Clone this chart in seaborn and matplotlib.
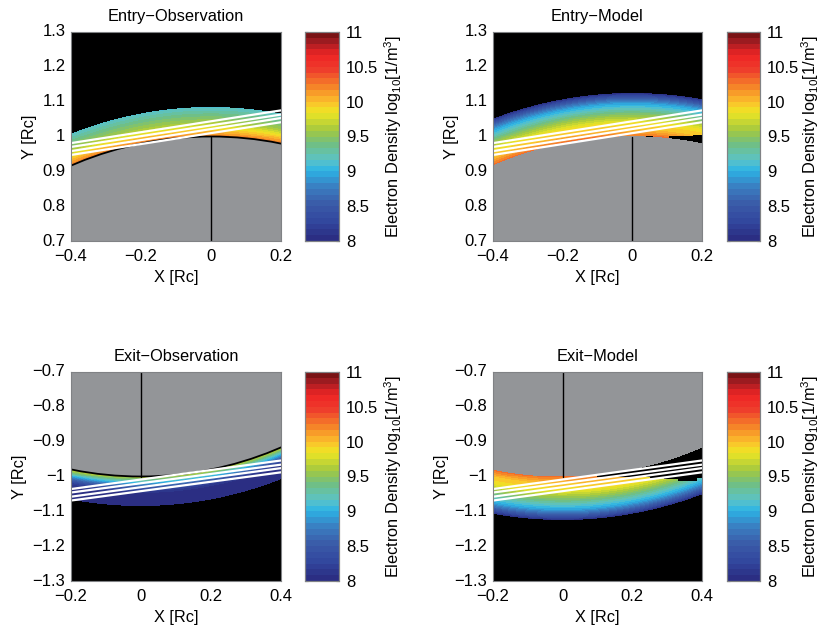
import numpy as np
import pandas as pd
import matplotlib
matplotlib.use("Agg")
import matplotlib.pyplot as plt
from matplotlib.colors import LinearSegmentedColormap, ListedColormap
from matplotlib.patches import Ellipse
from matplotlib.transforms import Affine2D
import seaborn as sns

titles = ["Entry\u2212Observation", "Entry\u2212Model", "Exit\u2212Observation", "Exit\u2212Model"]

# radial density profiles
r_obs_entry = [1.0, 1.012, 1.025, 1.04, 1.06, 1.08, 1.085]
ne_obs_entry = [10.25, 10.05, 9.85, 9.6, 9.4, 9.2, 9.15]
r_obs_exit = [1.0, 1.008, 1.018, 1.028, 1.04, 1.05, 1.085]
ne_obs_exit = [9.7, 9.45, 9.05, 8.6, 8.2, 8.05, 8.02]
r_model = [1.0, 1.02, 1.04, 1.06, 1.08, 1.095, 1.105, 1.115, 1.125]
ne_model = [10.3, 10.0, 9.85, 9.55, 9.2, 8.95, 8.7, 8.4, 8.05]

# tangent height lines
line_x_entry = [-0.4, 0.2]
lines_y_entry = [[0.981, 1.075], [0.970, 1.063], [0.958, 1.053], [0.947, 1.041]]
line_x_exit = [-0.2, 0.4]
lines_y_exit = [[-1.036, -0.954], [-1.046, -0.966], [-1.058, -0.976], [-1.069, -0.988]]

# black gaps in the model panels
gap_x_entry = [0.04, 0.06, 0.105, 0.175, 0.2]
gap_y_entry = [1.0015, 0.9, 1.0005, 1.004, 1.004]
gap_x_exit = [0.098, 0.175, 0.25, 0.29, 0.33, 0.37, 0.385, 0.4]
gap_y_exit = [-1.0, -1.002, -1.005, -1.006, -1.012, -1.012, -1.005, -1.005]

xticks_entry = [-0.4, -0.2, 0, 0.2]
xticks_exit = [-0.2, 0, 0.2, 0.4]
xlabels_entry = ["\u22120.4", "\u22120.2", "0", "0.2"]
xlabels_exit = ["\u22120.2", "0", "0.2", "0.4"]
yticks_entry = [0.7, 0.8, 0.9, 1.0, 1.1, 1.2, 1.3]
ylabels_entry = ["0.7", "0.8", "0.9", "1", "1.1", "1.2", "1.3"]
yticks_exit = [-1.3, -1.2, -1.1, -1.0, -0.9, -0.8, -0.7]
ylabels_exit = ["\u22121.3", "\u22121.2", "\u22121.1", "\u22121", "\u22120.9", "\u22120.8", "\u22120.7"]

cbar_ticks = [8, 8.5, 9, 9.5, 10, 10.5, 11]
cbar_labels = ["8", "8.5", "9", "9.5", "10", "10.5", "11"]

color_vals = [8.0, 8.25, 8.5, 8.75, 9.0, 9.15, 9.4, 9.6, 9.85, 10.0, 10.2, 10.5, 10.7, 10.9, 11.0]
color_hex = ["#2b2e83", "#32479e", "#3a5ba8", "#3a7cc0", "#2cb4e6", "#5ac3c9", "#72bf7f", "#a5c93f",
             "#eee624", "#fcc22c", "#f68d28", "#ee3a2c", "#ee2524", "#a01c22", "#7a1315"]

sns.set_style("white")
plt.rcParams["font.family"] = ["Liberation Sans", "DejaVu Sans"]
plt.rcParams["mathtext.default"] = "regular"
plt.rcParams["text.color"] = "black"
plt.rcParams["axes.labelcolor"] = "black"
plt.rcParams["xtick.labelcolor"] = "black"
plt.rcParams["ytick.labelcolor"] = "black"

cmap = LinearSegmentedColormap.from_list(
    "density", [((v - 8) / 3, c) for v, c in zip(color_vals, color_hex)], N=36)
grey = ListedColormap(["#939598"])
frame = "#808285"
n = 420
W, H = 820, 628


def px_rect(left, top, right, bottom):
    return [left / W, 1 - bottom / H, (right - left) / W, (bottom - top) / H]


def panel(ax, cax, title, r_prof, ne_prof, x0, ytop, xticks, xlabels, yticks, ylabels,
          lines_x, lines_y, gap=None, edge=False, cbar_pad=3):
    xs = x0 + (np.arange(n) + 0.5) * 0.6 / n
    ys = ytop - (np.arange(n) + 0.5) * 0.6 / n
    r = np.hypot(*np.meshgrid(xs, ys))
    field = pd.DataFrame(np.interp(r, r_prof, ne_prof, left=np.nan, right=np.nan), index=ys, columns=xs)
    solid = pd.DataFrame(np.zeros_like(r), index=ys, columns=xs)

    ax.set_facecolor("black")
    sns.heatmap(field, ax=ax, cmap=cmap, vmin=8, vmax=11, cbar_ax=cax,
                cbar_kws={"ticks": cbar_ticks})
    to_cell = Affine2D().translate(-x0, -ytop).scale(n / 0.6, -n / 0.6) + ax.transData

    if gap is not None:
        ax.fill_between(gap[0], gap[1], gap[2], step="post", color="black", lw=0, transform=to_cell)
    sns.heatmap(solid, ax=ax, cmap=grey, mask=r >= 1, cbar=False)

    if edge:
        ax.add_patch(Ellipse((0, 0), 2, 2, fill=False, ec="black", lw=1.3, transform=to_cell))
    sign = 1 if ytop > 0 else -1
    ax.plot([0, 0], [sign * 0.7, sign * 1.0], color="black", lw=1, transform=to_cell)
    for ly in lines_y:
        ax.plot(lines_x, ly, color="white", lw=1.6, transform=to_cell)

    ax.set_xlim(0, n)
    ax.set_ylim(n, 0)
    ax.set_xticks([(t - x0) / 0.6 * n for t in xticks])
    ax.set_xticklabels(xlabels, rotation=0, fontsize=12)
    ax.set_yticks([(ytop - t) / 0.6 * n for t in yticks])
    ax.set_yticklabels(ylabels, rotation=0, fontsize=12)
    ax.tick_params(axis="x", length=0, pad=6)
    ax.tick_params(axis="y", length=0, pad=4)
    ax.set_title(title, fontsize=11.8, pad=8)
    ax.set_xlabel("X [Rc]", fontsize=11.8, labelpad=4)
    ax.set_ylabel("Y [Rc]", fontsize=11.8, labelpad=4)
    for s in ax.spines.values():
        s.set_visible(True)
        s.set_color(frame)
        s.set_linewidth(0.8)

    cax.set_yticks(cbar_ticks)
    cax.set_yticklabels(cbar_labels, fontsize=12)
    cax.tick_params(left=True, right=True, direction="in", length=2, width=0.8, color="#222222", pad=5)
    cax.set_ylabel("Electron Density log$_{10}$[1/m$^3$]", fontsize=11.8, labelpad=cbar_pad)
    for s in cax.spines.values():
        s.set_visible(True)
        s.set_color(frame)
        s.set_linewidth(0.8)


fig = plt.figure(figsize=(8.2, 6.28), dpi=100)

ax1 = fig.add_axes(px_rect(71, 32, 281, 241))
cax1 = fig.add_axes(px_rect(305, 32, 339, 241))
ax2 = fig.add_axes(px_rect(493, 32, 702, 241))
cax2 = fig.add_axes(px_rect(727, 32, 760, 241))
ax3 = fig.add_axes(px_rect(71, 372, 281, 581))
cax3 = fig.add_axes(px_rect(305, 372, 339, 581))
ax4 = fig.add_axes(px_rect(493, 372, 702, 581))
cax4 = fig.add_axes(px_rect(727, 372, 760, 581))

panel(ax1, cax1, titles[0], r_obs_entry, ne_obs_entry, -0.4, 1.3, xticks_entry, xlabels_entry,
      yticks_entry, ylabels_entry, line_x_entry, lines_y_entry, edge=True)
panel(ax2, cax2, titles[1], r_model, ne_model, -0.4, 1.3, xticks_entry, xlabels_entry,
      yticks_entry, ylabels_entry, line_x_entry, lines_y_entry,
      gap=(gap_x_entry, 0.9, gap_y_entry), cbar_pad=0)
panel(ax3, cax3, titles[2], r_obs_exit, ne_obs_exit, -0.2, -0.7, xticks_exit, xlabels_exit,
      yticks_exit, ylabels_exit, line_x_exit, lines_y_exit, edge=True)
panel(ax4, cax4, titles[3], r_model, ne_model, -0.2, -0.7, xticks_exit, xlabels_exit,
      yticks_exit, ylabels_exit, line_x_exit, lines_y_exit,
      gap=(gap_x_exit, -0.85, gap_y_exit), cbar_pad=0)

fig.savefig("out.png", dpi=100)
